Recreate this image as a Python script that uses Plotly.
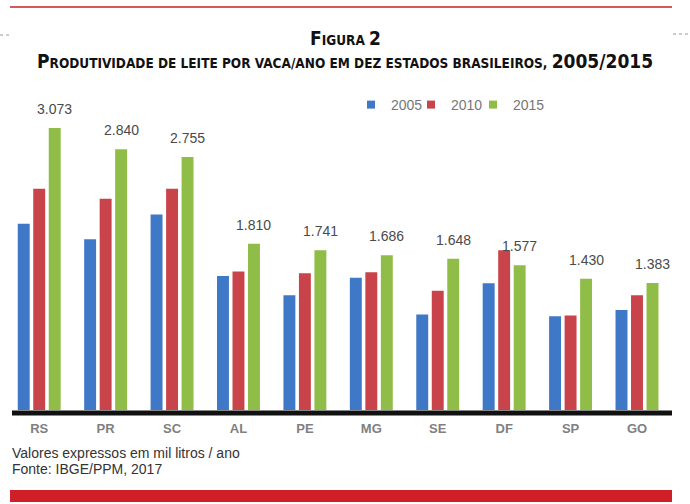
import plotly.graph_objects as go

categories = ["RS", "PR", "SC", "AL", "PE", "MG", "SE", "DF", "SP", "GO"]
v2005 = [2.03, 1.86, 2.13, 1.46, 1.25, 1.44, 1.04, 1.38, 1.02, 1.09]
v2010 = [2.41, 2.30, 2.41, 1.51, 1.49, 1.50, 1.30, 1.74, 1.03, 1.25]
v2015 = [3.073, 2.840, 2.755, 1.810, 1.741, 1.686, 1.648, 1.577, 1.430, 1.383]
labels2015 = ["3.073", "2.840", "2.755", "1.810", "1.741", "1.686", "1.648", "1.577", "1.430", "1.383"]
series_names = ["2005", "2010", "2015"]
colors = ["#3f78c6", "#c9444a", "#8fbd48"]

W, H = 690, 504
def px(x):
    return x / W
def py(y):
    return 1 - y / H

legend_ids = ["legend", "legend2", "legend3"]
legend_x = [351, 411, 473]

fig = go.Figure()
for name, vals, col in zip(series_names, [v2005, v2010, v2015], colors):
    fig.add_trace(go.Bar(x=categories, y=vals, name=name, marker=dict(color=col, line=dict(width=0)),
                         hoverinfo="skip", showlegend=False, legendgroup=name))
# legend entries with small square markers
for name, col, lid in zip(series_names, colors, legend_ids):
    fig.add_trace(go.Scatter(x=[None], y=[None], mode="markers", name=name, legendgroup=name,
                             legend=lid, marker=dict(symbol="square", size=8, color=col), hoverinfo="skip"))

annotations = []
for c, v, t in zip(categories, v2015, labels2015):
    annotations.append(dict(x=c, y=v, xref="x", yref="y", text=t, showarrow=False,
                            xshift=15.5, yshift=9, yanchor="bottom",
                            font=dict(family="Liberation Sans, Arial", size=14, color="#4a4a4a")))

big = 'font-size:19px'
title1 = f'<span style="{big}">F</span>IGURA <span style="{big}">2</span>'
title2 = (f'<span style="{big}">P</span>RODUTIVIDADE DE LEITE POR VACA/ANO EM DEZ ESTADOS BRASILEIROS, '
          f'<span style="{big}">2005/2015</span>')
tfont = dict(family="DejaVu Sans Condensed, Arial Narrow", size=13.5, color="#111111")
annotations.append(dict(x=0.5, y=py(38), xref="paper", yref="paper", text=f"<b>{title1}</b>",
                        showarrow=False, font=tfont, xanchor="center", yanchor="middle"))
annotations.append(dict(x=0.5, y=py(61), xref="paper", yref="paper", text=f"<b>{title2}</b>",
                        showarrow=False, font=tfont, xanchor="center", yanchor="middle"))
nfont = dict(family="Liberation Sans, Arial", size=14, color="#333333")
annotations.append(dict(x=px(10), y=py(453), xref="paper", yref="paper", text="Valores expressos em mil litros / ano",
                        showarrow=False, font=nfont, xanchor="left", yanchor="middle"))
annotations.append(dict(x=px(10), y=py(469), xref="paper", yref="paper", text="Fonte: IBGE/PPM, 2017",
                        showarrow=False, font=nfont, xanchor="left", yanchor="middle"))

shapes = [
    dict(type="line", xref="paper", yref="paper", x0=px(10), x1=px(672), y0=py(7), y1=py(7),
         line=dict(color="#d05a5e", width=2)),
    dict(type="rect", xref="paper", yref="paper", x0=px(10), x1=px(672), y0=py(502), y1=py(490),
         fillcolor="#d11f2a", line=dict(width=0)),
    dict(type="line", xref="paper", yref="paper", x0=px(0), x1=px(11), y0=py(35), y1=py(35),
         line=dict(color="#999999", width=1, dash="dot")),
    dict(type="line", xref="paper", yref="paper", x0=px(673), x1=px(690), y0=py(34), y1=py(34),
         line=dict(color="#999999", width=1, dash="dot")),
    dict(type="line", xref="paper", yref="paper", x0=px(12), x1=px(672), y0=py(413), y1=py(413),
         line=dict(color="#111111", width=5)),
]

base_px = 410
scale = 0.0918  # px per unit (thousandths)
top_val = 3.5
top_px = base_px - top_val * 1000 * scale

legend_style = dict(orientation="h", y=py(105), xanchor="left", yanchor="middle",
                    font=dict(family="Liberation Sans, Arial", size=14, color="#777777"),
                    itemwidth=30, bgcolor="rgba(0,0,0,0)")

fig.update_layout(
    width=W, height=H,
    margin=dict(l=0, r=0, t=0, b=0),
    paper_bgcolor="white", plot_bgcolor="white",
    barmode="group", bargap=0.30, bargroupgap=0.23,
    showlegend=True,
    xaxis=dict(domain=[px(6), px(672)], showline=False, showgrid=False, zeroline=False,
               ticks="", ticklabelstandoff=9,
               tickfont=dict(family="Liberation Sans, Arial", size=13, color="#808080", weight="bold")),
    yaxis=dict(domain=[py(base_px), py(top_px)], range=[0, top_val], visible=False, showgrid=False),
    annotations=annotations, shapes=shapes,
)
for lid, lx in zip(legend_ids, legend_x):
    fig.update_layout({lid: dict(legend_style, x=px(lx))})

fig.write_html("out.html")
